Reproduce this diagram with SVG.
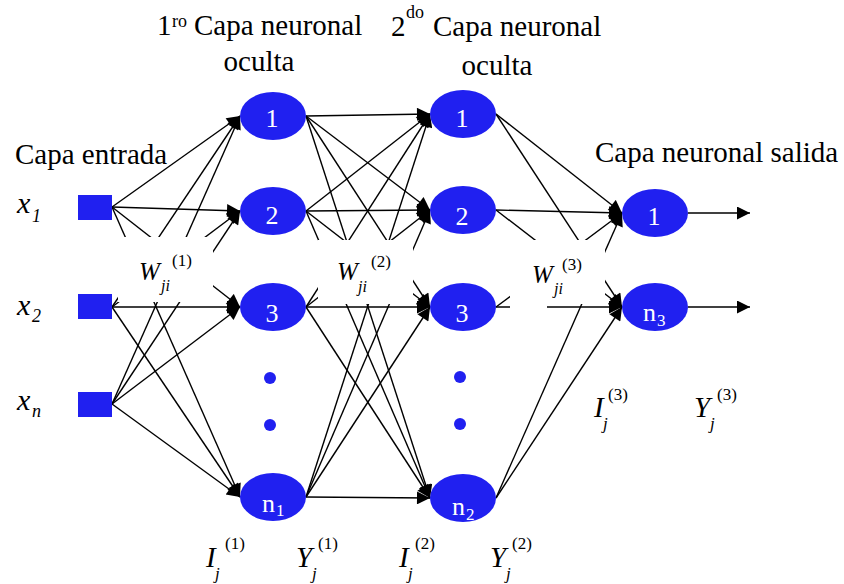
<svg xmlns="http://www.w3.org/2000/svg" width="844" height="584" viewBox="0 0 844 584" font-family="'Liberation Serif', 'DejaVu Serif', serif">
<defs>
<style>
text{font-family:'Liberation Serif','DejaVu Serif',serif}
.c{stroke:#000;stroke-width:1.4;fill:none;marker-end:url(#ah)}
.n{fill:#2020f0}
.lbl{fill:#fff;font-size:26px;text-anchor:middle}
.sub{fill:#fff;font-size:17px}
.nl{fill:#fff;font-size:26px}
.t{fill:#000;font-size:29px}
.sup{fill:#000;font-size:18px}
.it{fill:#000;font-style:italic}
.sm{fill:#000;font-size:17px}
.bg{fill:#fff}
</style>
<marker id="ah" viewBox="0 0 10 10" refX="10" refY="5" markerWidth="15" markerHeight="13" markerUnits="userSpaceOnUse" orient="auto">
<path d="M0,0 L10,5 L0,10 z" fill="#000"/>
</marker>
</defs>
<rect width="844" height="584" fill="#fff"/>
<g id="connectors">
<line class="c" x1="112" y1="207" x2="240" y2="116"/>
<line class="c" x1="112" y1="207" x2="240" y2="211"/>
<line class="c" x1="112" y1="207" x2="240" y2="307"/>
<line class="c" x1="112" y1="207" x2="240" y2="497"/>
<line class="c" x1="112" y1="307" x2="240" y2="116"/>
<line class="c" x1="112" y1="307" x2="240" y2="211"/>
<line class="c" x1="112" y1="307" x2="240" y2="307"/>
<line class="c" x1="112" y1="307" x2="240" y2="497"/>
<line class="c" x1="112" y1="404" x2="240" y2="116"/>
<line class="c" x1="112" y1="404" x2="240" y2="211"/>
<line class="c" x1="112" y1="404" x2="240" y2="307"/>
<line class="c" x1="112" y1="404" x2="240" y2="497"/>
<line class="c" x1="306" y1="116" x2="430" y2="114"/>
<line class="c" x1="306" y1="116" x2="430" y2="210"/>
<line class="c" x1="306" y1="116" x2="430" y2="307"/>
<line class="c" x1="306" y1="116" x2="430" y2="498"/>
<line class="c" x1="306" y1="211" x2="430" y2="114"/>
<line class="c" x1="306" y1="211" x2="430" y2="210"/>
<line class="c" x1="306" y1="211" x2="430" y2="307"/>
<line class="c" x1="306" y1="211" x2="430" y2="498"/>
<line class="c" x1="306" y1="307" x2="430" y2="114"/>
<line class="c" x1="306" y1="307" x2="430" y2="210"/>
<line class="c" x1="306" y1="307" x2="430" y2="307"/>
<line class="c" x1="306" y1="307" x2="430" y2="498"/>
<line class="c" x1="306" y1="497" x2="430" y2="114"/>
<line class="c" x1="306" y1="497" x2="430" y2="210"/>
<line class="c" x1="306" y1="497" x2="430" y2="307"/>
<line class="c" x1="306" y1="497" x2="430" y2="498"/>
<line class="c" x1="496" y1="114" x2="622" y2="213"/>
<line class="c" x1="496" y1="114" x2="622" y2="307"/>
<line class="c" x1="496" y1="210" x2="622" y2="213"/>
<line class="c" x1="496" y1="210" x2="622" y2="307"/>
<line class="c" x1="496" y1="307" x2="622" y2="213"/>
<line class="c" x1="496" y1="307" x2="622" y2="307"/>
<line class="c" x1="496" y1="498" x2="622" y2="213"/>
<line class="c" x1="496" y1="498" x2="622" y2="307"/>
<line class="c" x1="688" y1="213" x2="750" y2="213"/>
<line class="c" x1="688" y1="307" x2="750" y2="307"/>
</g>
<g id="label-backgrounds">
<rect class="bg" x="118" y="237" width="95" height="65"/>
<rect class="bg" x="318" y="240" width="95" height="64"/>
<rect class="bg" x="510" y="240" width="95" height="64"/>
<rect class="bg" x="510" y="300" width="37" height="11"/>
</g>
<g id="in1"><rect class="n" x="78" y="195" width="34" height="25"/></g>
<g id="in2"><rect class="n" x="78" y="294" width="34" height="25"/></g>
<g id="inn"><rect class="n" x="78" y="392" width="34" height="25"/></g>
<g id="h1-1"><ellipse class="n" cx="273" cy="116" rx="33" ry="24"/><text class="lbl" x="272" y="127">1</text></g>
<g id="h1-2"><ellipse class="n" cx="273" cy="211" rx="33" ry="24"/><text class="lbl" x="272" y="224">2</text></g>
<g id="h1-3"><ellipse class="n" cx="273" cy="307" rx="33" ry="24"/><text class="lbl" x="272" y="322">3</text></g>
<g id="h1-n"><ellipse class="n" cx="273" cy="497" rx="33" ry="24"/><text class="nl" x="262" y="512">n</text><text class="sub" x="276" y="516">1</text></g>
<g id="h2-1"><ellipse class="n" cx="463" cy="114" rx="33" ry="24"/><text class="lbl" x="462" y="127">1</text></g>
<g id="h2-2"><ellipse class="n" cx="463" cy="210" rx="33" ry="24"/><text class="lbl" x="462" y="225">2</text></g>
<g id="h2-3"><ellipse class="n" cx="463" cy="307" rx="33" ry="24"/><text class="lbl" x="462" y="322">3</text></g>
<g id="h2-n"><ellipse class="n" cx="463" cy="498" rx="33" ry="24"/><text class="nl" x="452" y="515">n</text><text class="sub" x="466" y="520">2</text></g>
<g id="o-1"><ellipse class="n" cx="655" cy="213" rx="33" ry="24"/><text class="lbl" x="654" y="225">1</text></g>
<g id="o-n"><ellipse class="n" cx="655" cy="307" rx="33" ry="24"/><text class="nl" x="643" y="321">n</text><text class="sub" x="657" y="326">3</text></g>
<g id="dots">
<circle class="n" cx="270" cy="378" r="6"/><circle class="n" cx="270" cy="425" r="6"/>
<circle class="n" cx="460" cy="377" r="6"/><circle class="n" cx="460" cy="424" r="6"/>
</g>
<g id="titles">
<text class="t" x="157" y="35">1</text><text class="sup" x="172" y="27">ro</text><text class="t" x="194" y="35">Capa neuronal</text>
<text class="t" x="259" y="71" text-anchor="middle">oculta</text>
<text class="t" x="391" y="36">2</text><text class="sup" x="406" y="18">do</text><text class="t" x="433" y="36">Capa neuronal</text>
<text class="t" x="497" y="75" text-anchor="middle">oculta</text>
<text class="t" x="15" y="164">Capa entrada</text>
<text class="t" x="595" y="162">Capa neuronal salida</text>
</g>
<g id="inputs-labels">
<text class="it" font-size="30" x="17" y="213">x</text><text class="it" font-size="18" x="32" y="222">1</text>
<text class="it" font-size="30" x="17" y="315">x</text><text class="it" font-size="18" x="32" y="322">2</text>
<text class="it" font-size="30" x="17" y="410">x</text><text class="it" font-size="18" x="32" y="417">n</text>
</g>
<g id="weights">
<text class="it" font-size="25" x="139" y="280">W</text><text class="it" font-size="16" x="161" y="291">ji</text><text class="sm" x="172" y="266">(1)</text>
<text class="it" font-size="25" x="337" y="280">W</text><text class="it" font-size="16" x="358" y="292">ji</text><text class="sm" x="371" y="267">(2)</text>
<text class="it" font-size="25" x="532" y="283">W</text><text class="it" font-size="16" x="554" y="294">ji</text><text class="sm" x="562" y="270">(3)</text>
</g>
<g id="io-labels">
<text class="it" font-size="29" x="206" y="567">I</text><text class="it" font-size="17" x="215" y="579">j</text><text class="sm" x="225" y="549">(1)</text>
<text class="it" font-size="29" x="296" y="567">Y</text><text class="it" font-size="17" x="312" y="579">j</text><text class="sm" x="318" y="549">(1)</text>
<text class="it" font-size="29" x="399" y="567">I</text><text class="it" font-size="17" x="408" y="579">j</text><text class="sm" x="415" y="549">(2)</text>
<text class="it" font-size="29" x="490" y="567">Y</text><text class="it" font-size="17" x="506" y="579">j</text><text class="sm" x="512" y="549">(2)</text>
<text class="it" font-size="29" x="594" y="417">I</text><text class="it" font-size="17" x="603" y="429">j</text><text class="sm" x="608" y="400">(3)</text>
<text class="it" font-size="29" x="694" y="417">Y</text><text class="it" font-size="17" x="710" y="429">j</text><text class="sm" x="717" y="400">(3)</text>
</g>
</svg>
